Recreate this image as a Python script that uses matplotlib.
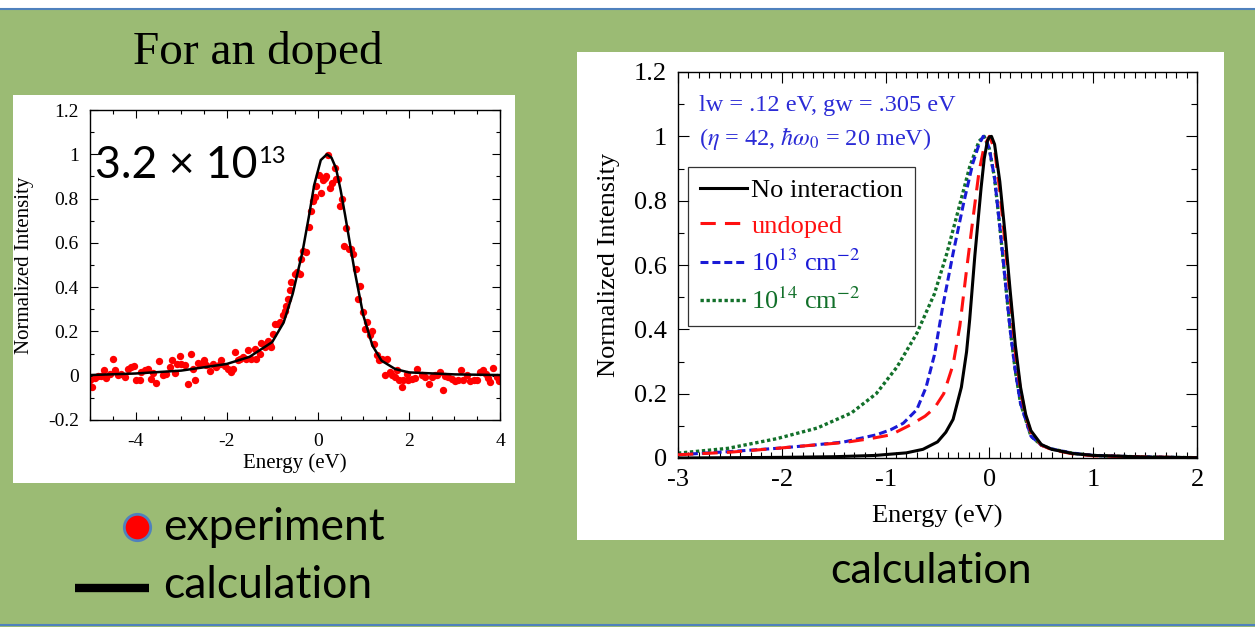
import matplotlib
matplotlib.use("Agg")
import matplotlib.pyplot as plt
from matplotlib.patches import Rectangle
from matplotlib.lines import Line2D
from matplotlib.ticker import MultipleLocator, FuncFormatter

plt.rcParams['axes.unicode_minus'] = False
plt.rcParams['mathtext.fontset'] = 'stix'

# ---- left panel: measured spectrum (3.2e13) ----
exp_e = [-5.01, -4.96, -4.90, -4.83, -4.75, -4.70, -4.64, -4.57, -4.50, -4.46,
         -4.39, -4.33, -4.24, -4.17, -4.10, -4.04, -3.99, -3.91, -3.88, -3.80,
         -3.73, -3.66, -3.62, -3.55, -3.49, -3.40, -3.33, -3.25, -3.20, -3.14,
         -3.10, -3.03, -3.00, -2.92, -2.85, -2.79, -2.74, -2.70, -2.63, -2.56,
         -2.50, -2.45, -2.37, -2.30, -2.23, -2.15,
         -2.12, -2.04, -1.97, -1.90, -1.86, -1.82, -1.75, -1.71, -1.64, -1.57,
         -1.53, -1.46, -1.38, -1.35, -1.27, -1.24, -1.16, -1.13, -1.09, -1.05,
         -1.02, -0.98, -0.95, -0.87, -0.84, -0.76, -0.72, -0.69, -0.65, -0.61,
         -0.58, -0.50, -0.45, -0.40, -0.36, -0.32, -0.25, -0.19, -0.14, -0.10,
         -0.066, -0.029,
         0.029, 0.08, 0.117, 0.154, 0.176, 0.227, 0.278, 0.322, 0.374, 0.41,
         0.447, 0.484, 0.535, 0.579, 0.63, 0.689, 0.74, 0.777, 0.835, 0.887,
         0.923, 0.982, 1.033, 1.084, 1.143, 1.18, 1.23, 1.29, 1.348, 1.40,
         1.47, 1.52, 1.58, 1.64, 1.69, 1.74, 1.79, 1.84, 1.875, 1.95,
         1.985, 2.06, 2.13, 2.18,
         2.28, 2.35, 2.45, 2.50, 2.57, 2.62, 2.68, 2.74, 2.79, 2.86,
         2.94, 3.01, 3.08, 3.14, 3.19, 3.27, 3.34, 3.42, 3.50, 3.56,
         3.62, 3.69, 3.74, 3.79, 3.85, 3.93, 3.98]
exp_i = [-0.021, -0.051, -0.009, -0.003, -0.003, 0.024, -0.009, 0.006, 0.077, 0.024,
         0.002, 0.006, -0.006, 0.032, 0.039, 0.044, -0.021, -0.021, 0.017, 0.024,
         0.032, -0.014, 0.012, -0.033, 0.065, 0.002, 0.006, 0.039, 0.069, 0.012,
         0.054, 0.087, 0.054, 0.047, -0.036, 0.096, 0.032, -0.021, 0.057, 0.054,
         0.072, 0.047, 0.021, 0.051, 0.039, 0.054,
         0.069, 0.046, 0.032, 0.017, 0.032, 0.107, 0.069, 0.077, 0.084, 0.077,
         0.114, 0.077, 0.122, 0.077, 0.099, 0.149, 0.129, 0.144, 0.159, 0.137,
         0.129, 0.189, 0.234, 0.234, 0.242, 0.272, 0.294, 0.317, 0.347, 0.385,
         0.422, 0.460, 0.467, 0.460, 0.527, 0.565, 0.557, 0.670, 0.745, 0.790,
         0.805, 0.858,
         0.905, 0.824, 0.884, 0.895, 0.902, 0.995, 0.850, 0.872, 0.940, 0.89,
         0.887, 0.767, 0.800, 0.587, 0.665, 0.572, 0.572, 0.550, 0.482, 0.347,
         0.407, 0.287, 0.209, 0.242, 0.182, 0.204, 0.144, 0.092, 0.069, 0.077,
         0.002, 0.077, 0.017, 0.002, -0.006, 0.024, -0.021, -0.051, -0.021, 0.009,
         -0.021, -0.016, -0.011, 0.032,
         0.002, -0.006, -0.039, -0.006, 0.002, 0.002, 0.017, -0.063, -0.003, -0.006,
         -0.014, -0.024, -0.018, 0.024, -0.018, 0.002, -0.024, -0.018, -0.021, 0.017,
         0.027, 0.006, -0.009, -0.029, 0.036, -0.006, -0.024]

calc_e = [-5, -4, -3, -2, -1.5, -1.0, -0.75, -0.55, -0.335, -0.19, -0.08, 0.066,
          0.2, 0.3, 0.4, 0.5, 0.6, 0.8, 1.0, 1.2, 1.4, 1.7, 2.0, 3.0, 4.0]
calc_i = [0.003, 0.01, 0.023, 0.053, 0.085, 0.152, 0.24, 0.37, 0.56, 0.725, 0.86, 0.974,
          1.0, 0.985, 0.937, 0.84, 0.725, 0.483, 0.272, 0.136, 0.068, 0.03, 0.015, 0.006, 0.003]

# ---- right panel: calculated spectra ----
black_e = [-3.0, -2.5, -2.0, -1.5, -1.1, -0.8, -0.64, -0.5, -0.42, -0.35, -0.27, -0.22,
           -0.19, -0.14, -0.1, -0.08, -0.05, -0.02, 0.0, 0.02, 0.05, 0.1, 0.15, 0.2,
           0.25, 0.3, 0.35, 0.4, 0.5, 0.6, 0.8, 1.0, 1.5, 2.0]
black_i = [0.0, 0.001, 0.002, 0.004, 0.008, 0.016, 0.027, 0.05, 0.08, 0.12, 0.22, 0.33,
           0.43, 0.63, 0.77, 0.84, 0.93, 0.985, 0.998, 1.0, 0.975, 0.86, 0.7, 0.52,
           0.35, 0.22, 0.135, 0.085, 0.042, 0.027, 0.014, 0.008, 0.003, 0.001]

red_e = [-3.0, -2.5, -2.05, -1.7, -1.4, -1.15, -0.95, -0.76, -0.62, -0.53, -0.44, -0.35,
         -0.285, -0.22, -0.16, -0.1, -0.05, 0.0, 0.05, 0.1, 0.15, 0.2, 0.25, 0.3, 0.35,
         0.4, 0.5, 0.6, 0.8, 1.0, 1.5, 2.0]
red_i = [0.01, 0.018, 0.03, 0.04, 0.048, 0.06, 0.072, 0.103, 0.13, 0.155, 0.2, 0.29,
         0.41, 0.585, 0.74, 0.89, 0.97, 1.0, 0.96, 0.83, 0.67, 0.5, 0.33, 0.21, 0.13,
         0.08, 0.04, 0.026, 0.013, 0.007, 0.003, 0.001]

blue_e = [-3.0, -2.5, -2.05, -1.7, -1.4, -1.09, -0.95, -0.83, -0.7, -0.61, -0.53, -0.45,
          -0.35, -0.25, -0.16, -0.1, -0.06, -0.03, 0.0, 0.05, 0.1, 0.15, 0.2, 0.25, 0.3,
          0.4, 0.5, 0.6, 0.8, 1.0, 1.5, 2.0]
blue_i = [0.01, 0.02, 0.03, 0.04, 0.05, 0.072, 0.088, 0.108, 0.15, 0.22, 0.32, 0.47,
          0.636, 0.79, 0.916, 0.975, 1.0, 0.99, 0.96, 0.87, 0.72, 0.56, 0.4, 0.27, 0.17,
          0.068, 0.04, 0.028, 0.015, 0.008, 0.003, 0.001]

green_e = [-3.0, -2.52, -2.05, -1.66, -1.33, -1.09, -0.89, -0.7, -0.53, -0.41, -0.3,
           -0.19, -0.1, -0.05, 0.0, 0.05, 0.1, 0.15, 0.2, 0.25, 0.3, 0.4, 0.5, 0.6, 0.8,
           1.0, 1.5, 2.0]
green_i = [0.015, 0.03, 0.06, 0.093, 0.14, 0.2, 0.283, 0.387, 0.51, 0.636, 0.77,
           0.905, 0.985, 1.0, 0.96, 0.87, 0.72, 0.56, 0.4, 0.27, 0.17, 0.068, 0.04, 0.028,
           0.015, 0.008, 0.003, 0.001]

W, H = 1255, 627
GREEN_BG = '#9bbb74'
SERIF = 'Liberation Serif'
SANS = 'Lato'


def px_box(x0, y0, x1, y1):
    # pixel box (top-left origin) -> figure fraction rect
    return [x0 / W, 1 - y1 / H, (x1 - x0) / W, (y1 - y0) / H]


def fmt(v, pos):
    return '%g' % round(v, 3)


fig = plt.figure(figsize=(W / 100, H / 100), dpi=100)
fig.patch.set_facecolor(GREEN_BG)

# slide decorations (behind the axes)
fig.add_artist(Rectangle((0, 1 - 8 / H), 1, 8 / H, transform=fig.transFigure,
                         facecolor='white', edgecolor='none', zorder=-5))
fig.add_artist(Line2D([0, 1], [1 - 9 / H, 1 - 9 / H], transform=fig.transFigure,
                      color='#4f81bd', lw=1.5, zorder=-5))
fig.add_artist(Line2D([0, 1], [1 - 625 / H, 1 - 625 / H], transform=fig.transFigure,
                      color='#4f81bd', lw=1.5, zorder=-5))
for box in [(13, 95, 515, 483), (577, 52, 1224, 540)]:
    x, y, w, h = px_box(*box)
    fig.add_artist(Rectangle((x, y), w, h, transform=fig.transFigure,
                             facecolor='white', edgecolor='none', zorder=-5))

# ---------------- left plot ----------------
ax1 = fig.add_axes(px_box(90, 110, 500, 420))
ax1.set_facecolor('none')
ax1.plot(calc_e, calc_i, color='black', lw=1.8, zorder=3)
ax1.scatter(exp_e, exp_i, s=28, color='#ff0000', zorder=2, linewidths=0)
ax1.set_xlim(-5, 4)
ax1.set_ylim(-0.2, 1.2)
ax1.xaxis.set_major_locator(MultipleLocator(2))
ax1.xaxis.set_minor_locator(MultipleLocator(0.5))
ax1.yaxis.set_major_locator(MultipleLocator(0.2))
ax1.yaxis.set_minor_locator(MultipleLocator(0.1))
ax1.xaxis.set_major_formatter(FuncFormatter(fmt))
ax1.yaxis.set_major_formatter(FuncFormatter(fmt))
ax1.tick_params(which='both', direction='in', top=True, right=True, width=0.8)
ax1.tick_params(which='major', length=6, labelsize=14)
ax1.tick_params(which='minor', length=3)
ax1.tick_params(axis='x', which='major', pad=9)
ax1.tick_params(axis='y', which='major', pad=8)
for lab in ax1.get_xticklabels() + ax1.get_yticklabels():
    lab.set_family(SERIF)
ax1.set_xlabel('Energy (eV)', family=SERIF, fontsize=15, labelpad=3)
ax1.set_ylabel('Normalized Intensity', family=SERIF, fontsize=15, labelpad=10)
for sp in ax1.spines.values():
    sp.set_linewidth(1.0)

# ---------------- right plot ----------------
ax2 = fig.add_axes(px_box(678, 72, 1197, 458))
ax2.set_facecolor('none')
ax2.plot(black_e, black_i, color='black', lw=2.2, label='No interaction', zorder=4)
ax2.plot(red_e, red_i, color='#ff1010', lw=2.2, dashes=(5, 3), label='undoped', zorder=3)
ax2.plot(blue_e, blue_i, color='#1a1ad6', lw=2.2, dashes=(2.6, 1.3),
         label=r'10$^{13}$ cm$^{-2}$', zorder=2)
ax2.plot(green_e, green_i, color='#12702a', lw=2.4, dashes=(1, 0.8),
         label=r'10$^{14}$ cm$^{-2}$', zorder=1)
ax2.set_xlim(-3, 2)
ax2.set_ylim(0, 1.2)
ax2.xaxis.set_major_locator(MultipleLocator(1))
ax2.xaxis.set_minor_locator(MultipleLocator(0.1))
ax2.yaxis.set_major_locator(MultipleLocator(0.2))
ax2.yaxis.set_minor_locator(MultipleLocator(0.1))
ax2.xaxis.set_major_formatter(FuncFormatter(fmt))
ax2.yaxis.set_major_formatter(FuncFormatter(fmt))
ax2.tick_params(which='both', direction='in', top=True, right=True, width=0.8)
ax2.tick_params(which='major', length=8, pad=8, labelsize=19)
ax2.tick_params(which='minor', length=4)
for lab in ax2.get_xticklabels() + ax2.get_yticklabels():
    lab.set_family(SERIF)
ax2.set_xlabel('Energy (eV)', family=SERIF, fontsize=19, labelpad=10)
ax2.set_ylabel('Normalized Intensity', family=SERIF, fontsize=19, labelpad=10)
for sp in ax2.spines.values():
    sp.set_linewidth(1.0)

leg = ax2.legend(loc='upper left', bbox_to_anchor=(688 / W, 1 - 167 / H),
                 bbox_transform=fig.transFigure, frameon=True, fancybox=False,
                 edgecolor='black', prop={'family': SERIF, 'size': 19},
                 handlelength=1.8, handletextpad=0.15, borderpad=0.45,
                 labelspacing=0.45, borderaxespad=0, labelcolor='linecolor')
leg.get_frame().set_linewidth(0.9)

ax2.text(699 / W, 1 - 106 / H, 'lw = .12 eV, gw = .305 eV', transform=fig.transFigure,
         family=SERIF, fontsize=17.5, color='#2b2bd6', va='center', ha='left')
ax2.text(699 / W, 1 - 138 / H, r'($\eta$ = 42, $\hbar\omega_0$ = 20 meV)',
         transform=fig.transFigure, family=SERIF, fontsize=17.5, color='#2b2bd6',
         va='center', ha='left')

# ---------------- slide texts ----------------
fig.text(258 / W, 1 - 52 / H, 'For an doped', family=SERIF, fontsize=34,
         ha='center', va='center')
base = fig.text(95 / W, 1 - 178 / H, '3.2 \u00d7 10', family=SANS, fontsize=32,
                ha='left', va='baseline')
fig.canvas.draw()
bb = base.get_window_extent()
fig.text((bb.x1 + 1) / W, 1 - 163 / H, '13', family=SANS, fontsize=17,
         ha='left', va='baseline')

fig.add_artist(Line2D([137 / W], [1 - 527 / H], transform=fig.transFigure,
                      marker='o', markersize=19, markerfacecolor='#ff0000',
                      markeredgecolor='#4f81bd', markeredgewidth=2, linestyle='none'))
fig.add_artist(Line2D([75 / W, 149 / W], [1 - 588 / H, 1 - 588 / H],
                      transform=fig.transFigure, color='black', lw=6,
                      solid_capstyle='butt'))
fig.text(163 / W, 1 - 527 / H, 'experiment', family=SANS, fontsize=32,
         ha='left', va='center')
fig.text(163 / W, 1 - 586 / H, 'calculation', family=SANS, fontsize=32,
         ha='left', va='center')
fig.text(931 / W, 1 - 571 / H, 'calculation', family=SANS, fontsize=31,
         ha='center', va='center')

fig.savefig('out.png', dpi=100, facecolor=fig.get_facecolor())
